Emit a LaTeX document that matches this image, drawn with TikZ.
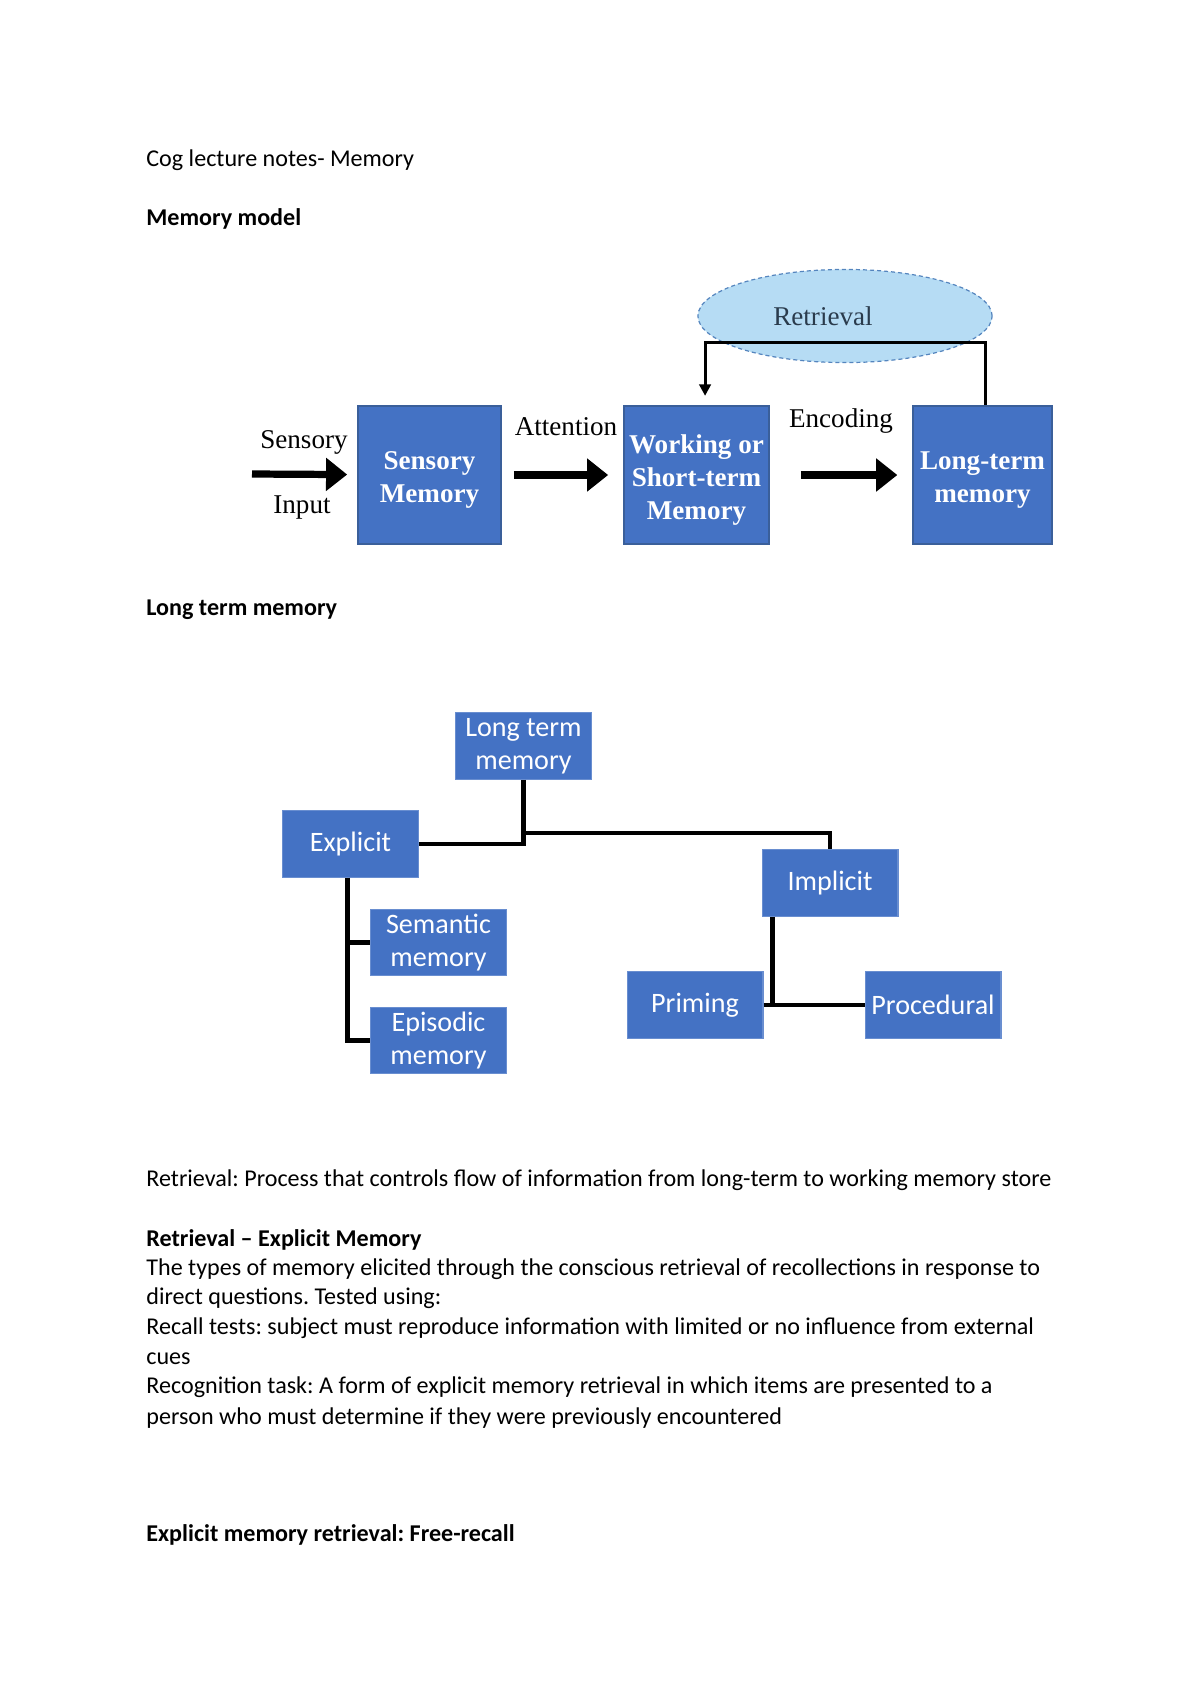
\documentclass[tikz,border=0pt]{standalone}
\usepackage{fontspec}
\setmainfont{Carlito}
\newfontfamily\timesfont{Liberation Serif}
\usetikzlibrary{arrows.meta,shapes.geometric}
\frenchspacing
\definecolor{boxblue}{HTML}{4472C4}
\definecolor{boxedge}{HTML}{3A5F9A}
\definecolor{ovalblue}{HTML}{B6DCF4}
\definecolor{ovaledge}{HTML}{5585BE}
\definecolor{ovaltext}{HTML}{2A3B4C}
\newcommand{\lift}{\rule{0pt}{14pt}}
\tikzset{
  txt/.style={anchor=base west, inner sep=0pt, font=\fontsize{12}{14.5}\selectfont},
  hdr/.style={txt, font=\fontsize{12}{14.5}\selectfont\bfseries},
  stage/.style={draw=boxedge, line width=0.9pt, fill=boxblue, text=white, align=center,
    minimum width=2.5cm, minimum height=2.42cm, inner sep=1pt,
    font=\timesfont\bfseries\fontsize{13.5}{16.5}\selectfont},
  kind/.style={draw=boxblue!80!white, line width=0.5pt, fill=boxblue, text=white, align=center,
    minimum width=2.38cm, minimum height=1.17cm, inner sep=1pt,
    font=\fontsize{14}{16.5}\selectfont},
  lab/.style={inner sep=0pt, font=\timesfont\fontsize{13.5}{16}\selectfont},
  bigarrow/.style={line width=3.6pt, -{Triangle[length=0.37cm,width=0.56cm]}},
  retline/.style={line width=1.5pt, -{Triangle[length=0.2cm,width=0.2cm]}},
  tree/.style={line width=2.4pt}
}
\begin{document}
\begin{tikzpicture}[x=0.0175cm, y=-0.0175cm]
\useasboundingbox (0,0) rectangle (1200,1698);

% page text, top
\node[txt] (title) at (146,166) {Cog lecture notes- Memory};
\node[hdr] (model) at (146,225) {Memory model};

% memory model
\node[ellipse, draw=ovaledge, dash pattern=on 2pt off 1.5pt, line width=0.6pt, fill=ovalblue,
  minimum width=5.15cm, minimum height=1.63cm, text=ovaltext,
  font=\timesfont\fontsize{13.5}{16}\selectfont] (retr) at (845,316) {Retrieval\hspace*{0.77cm}};
\node[stage] (sensory) at (429.5,475) {\lift Sensory\\Memory};
\node[stage, minimum width=2.54cm] (working) at (696.5,475) {\lift Working or\\Short-term\\Memory};
\node[stage, minimum width=2.43cm] (longterm) at (982.5,475) {\lift Long-term\\memory};
\coordinate (input) at (252,474);
\node[lab] (sens) at (304,442) {Sensory};
\node[lab] (inp) at (302,507) {Input};
\node[lab] (att) at (566,427) {Attention};
\node[lab] (enc) at (841,421) {Encoding};
\draw[bigarrow, shorten >=0.175cm] (input) -- (sensory);
\draw[bigarrow, shorten <=0.21cm, shorten >=0.26cm] (sensory) -- (working);
\draw[bigarrow, shorten <=0.54cm, shorten >=0.26cm] (working) -- (longterm);
\draw[retline, shorten >=0.16cm] ([xshift=0.06cm]longterm.north) -- ++(0,-62)
  -| ([xshift=0.15cm]working.north);

\node[hdr] (ltmhead) at (146,615) {Long term memory};

% long term memory tree
\node[kind] (ltm) at (523.5,746) {Long term\\memory};
\node[kind] (explicit) at (350.5,844) {Explicit};
\node[kind] (semantic) at (438.5,942.5) {Semantic\\memory};
\node[kind] (episodic) at (438.5,1040.5) {Episodic\\memory};
\node[kind] (implicit) at (830,883) {Implicit};
\node[kind] (priming) at (695,1005) {Priming};
\node[kind] (procedural) at (933,1005) {Procedural};
\draw[tree] (ltm.south) |- (explicit.east);
\draw[tree] (ltm.south) ++(0,53) -| (implicit.north);
\draw[tree] ([xshift=-0.05cm]explicit.south) |- (semantic.west);
\draw[tree] ([xshift=-0.05cm]explicit.south) |- (episodic.west);
\draw[tree] ([xshift=0.19cm]implicit.south west) |- (procedural.west);
\draw[tree] (priming.east) -- (procedural.west);

% page text, bottom
\node[txt] (def) at (146,1186) {Retrieval: Process that controls flow of information from long-term to working memory store};
\node[hdr] (exphead) at (146,1246) {Retrieval – Explicit Memory};
\node[txt] (b1) at (146,1275) {The types of memory elicited through the conscious retrieval of recollections in response to};
\node[txt] (b2) at (146,1304) {direct questions. Tested using:};
\node[txt] (b3) at (146,1334) {Recall tests: subject must reproduce information with limited or no influence from external};
\node[txt] (b4) at (146,1364) {cues};
\node[txt] (b5) at (146,1393) {Recognition task: A form of explicit memory retrieval in which items are presented to a};
\node[txt] (b6) at (146,1424) {person who must determine if they were previously encountered};
\node[hdr] (freehead) at (146,1541) {Explicit memory retrieval: Free-recall};
\end{tikzpicture}
\end{document}
